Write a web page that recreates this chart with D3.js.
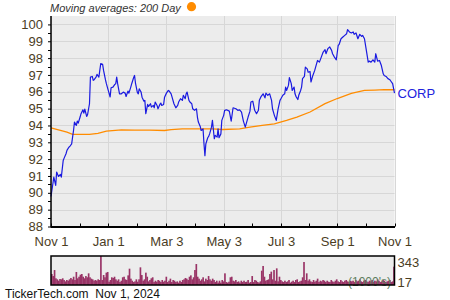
<!DOCTYPE html>
<html><head><meta charset="utf-8">
<script src="https://cdn.jsdelivr.net/npm/d3@7"></script>
<style>
html,body{margin:0;padding:0;background:#fff;}
svg{display:block;font-family:"Liberation Sans",Arial,sans-serif;}
</style></head>
<body><svg id="c" width="450" height="300"></svg>
<script>
const priceDates = ["2023-11-01","2023-11-03","2023-11-04","2023-11-06","2023-11-07","2023-11-09","2023-11-11","2023-11-12","2023-11-14","2023-11-15","2023-11-17","2023-11-18","2023-11-20","2023-11-21","2023-11-23","2023-11-24","2023-11-25","2023-11-26","2023-11-28","2023-11-29","2023-11-30","2023-12-02","2023-12-03","2023-12-05","2023-12-06","2023-12-07","2023-12-09","2023-12-10","2023-12-12","2023-12-13","2023-12-15","2023-12-16","2023-12-17","2023-12-19","2023-12-20","2023-12-22","2023-12-23","2023-12-24","2023-12-26","2023-12-27","2023-12-29","2023-12-30","2024-01-01","2024-01-03","2024-01-04","2024-01-06","2024-01-08","2024-01-09","2024-01-10","2024-01-11","2024-01-13","2024-01-15","2024-01-17","2024-01-19","2024-01-20","2024-01-22","2024-01-23","2024-01-25","2024-01-26","2024-01-28","2024-01-29","2024-01-30","2024-02-01","2024-02-02","2024-02-03","2024-02-05","2024-02-06","2024-02-08","2024-02-09","2024-02-10","2024-02-12","2024-02-13","2024-02-15","2024-02-16","2024-02-18","2024-02-19","2024-02-20","2024-02-22","2024-02-23","2024-02-25","2024-02-26","2024-02-27","2024-02-29","2024-03-01","2024-03-03","2024-03-05","2024-03-06","2024-03-08","2024-03-09","2024-03-11","2024-03-13","2024-03-15","2024-03-16","2024-03-18","2024-03-20","2024-03-21","2024-03-23","2024-03-24","2024-03-25","2024-03-27","2024-03-28","2024-03-30","2024-03-31","2024-04-02","2024-04-04","2024-04-05","2024-04-06","2024-04-08","2024-04-09","2024-04-11","2024-04-12","2024-04-13","2024-04-14","2024-04-16","2024-04-17","2024-04-18","2024-04-20","2024-04-21","2024-04-23","2024-04-24","2024-04-26","2024-04-27","2024-04-28","2024-04-30","2024-05-01","2024-05-03","2024-05-04","2024-05-06","2024-05-09","2024-05-11","2024-05-13","2024-05-16","2024-05-18","2024-05-20","2024-05-22","2024-05-24","2024-05-26","2024-05-29","2024-05-31","2024-06-01","2024-06-03","2024-06-05","2024-06-07","2024-06-09","2024-06-10","2024-06-12","2024-06-14","2024-06-16","2024-06-17","2024-06-19","2024-06-21","2024-06-23","2024-06-24","2024-06-26","2024-06-28","2024-06-30","2024-07-02","2024-07-03","2024-07-05","2024-07-07","2024-07-08","2024-07-09","2024-07-11","2024-07-12","2024-07-14","2024-07-15","2024-07-17","2024-07-18","2024-07-19","2024-07-21","2024-07-22","2024-07-24","2024-07-25","2024-07-26","2024-07-28","2024-07-29","2024-07-31","2024-08-01","2024-08-03","2024-08-04","2024-08-06","2024-08-08","2024-08-10","2024-08-11","2024-08-13","2024-08-15","2024-08-17","2024-08-19","2024-08-20","2024-08-22","2024-08-24","2024-08-26","2024-08-27","2024-08-29","2024-08-31","2024-09-02","2024-09-03","2024-09-05","2024-09-07","2024-09-09","2024-09-11","2024-09-12","2024-09-14","2024-09-16","2024-09-18","2024-09-19","2024-09-21","2024-09-23","2024-09-25","2024-09-27","2024-09-28","2024-09-30","2024-10-02","2024-10-04","2024-10-05","2024-10-07","2024-10-09","2024-10-11","2024-10-12","2024-10-14","2024-10-16","2024-10-18","2024-10-20","2024-10-21","2024-10-23","2024-10-25","2024-10-27","2024-10-28","2024-10-30","2024-11-01"];
const priceValues = [89.78,90.54,90.93,90.44,91.23,90.97,91.09,90.93,91.92,92.06,92.32,92.52,92.71,92.75,92.91,93.31,93.70,94.20,94.00,94.26,94.14,94.50,94.70,94.93,94.73,94.97,94.54,94.65,95.29,96.87,96.91,96.68,96.72,96.87,97.03,96.87,97.27,97.67,97.63,97.27,96.72,96.48,96.08,95.69,96.24,96.28,96.44,96.48,96.87,96.48,95.88,95.88,95.98,95.92,95.72,96.04,95.92,96.28,96.48,96.83,96.97,96.52,95.96,95.88,96.18,95.98,95.68,95.44,95.49,94.70,95.25,95.13,95.29,95.09,95.19,95.05,95.39,95.19,94.99,95.25,95.33,95.19,95.25,95.68,95.92,96.08,96.04,95.88,95.68,95.29,95.05,95.19,95.39,95.59,95.49,95.79,95.59,95.88,95.98,95.49,95.39,95.29,94.99,94.90,94.99,94.50,94.20,93.94,93.70,93.80,92.91,92.21,92.91,93.27,93.35,93.50,93.90,94.30,93.21,93.41,93.31,93.80,93.27,93.50,94.30,94.60,94.90,94.93,94.85,94.26,95.05,94.99,94.90,94.93,94.79,94.26,93.90,94.50,94.85,95.39,95.44,94.90,94.70,94.90,95.49,95.73,95.88,95.64,95.92,95.79,95.88,95.49,94.99,94.60,94.30,94.99,95.49,95.59,95.79,95.88,96.28,96.08,96.38,96.84,96.48,96.08,96.28,95.88,95.73,95.54,95.79,96.08,96.28,96.78,96.91,97.46,97.36,97.16,97.20,96.58,96.97,97.27,97.67,97.86,97.76,98.06,98.36,98.50,98.26,98.56,98.66,98.46,98.26,98.06,97.90,98.75,98.81,99.15,99.25,99.35,99.45,99.69,99.55,99.49,99.55,99.41,99.49,99.15,99.41,99.29,99.35,99.15,98.46,97.76,97.82,97.76,97.90,97.76,98.26,97.82,97.86,97.56,97.07,96.97,96.91,96.78,96.72,96.64,96.48,95.92];

const maDates = ["2023-11-01","2023-11-08","2023-11-18","2023-11-24","2023-12-12","2023-12-21","2023-12-30","2024-01-15","2024-01-29","2024-02-14","2024-03-01","2024-03-08","2024-03-20","2024-04-21","2024-05-02","2024-05-20","2024-05-31","2024-06-13","2024-06-26","2024-07-09","2024-07-20","2024-08-03","2024-08-19","2024-09-01","2024-09-16","2024-09-30","2024-10-11","2024-10-21","2024-11-01"];
const maValues = [93.86,93.75,93.60,93.47,93.47,93.53,93.66,93.74,93.72,93.72,93.70,93.75,93.80,93.80,93.76,93.80,93.90,94.00,94.10,94.30,94.50,94.80,95.30,95.60,95.90,96.08,96.10,96.13,96.12];

const volumes = [130,106,177,79,67,51,71,67,79,59,43,59,51,67,83,67,98,59,154,79,98,122,130,98,79,106,91,138,91,75,67,51,59,51,67,59,343,59,118,91,146,154,39,59,91,83,98,67,51,67,35,51,91,98,67,59,114,193,75,51,35,43,67,39,67,209,118,51,67,146,98,43,59,79,91,35,51,39,59,51,35,59,39,51,98,35,51,75,35,59,51,35,43,28,51,35,59,67,83,75,59,98,114,67,91,177,248,98,75,51,67,91,43,75,59,106,67,51,75,59,35,51,28,
51,28,59,43,138,35,28,39,91,98,51,43,59,35,43,28,51,35,51,35,39,59,28,35,106,35,59,51,35,28,43,169,225,98,51,59,67,130,158,67,177,51,197,43,98,59,43,35,51,35,43,59,28,39,51,35,59,67,35,43,51,91,272,59,138,51,67,43,35,59,39,51,75,35,51,43,59,51,35,51,39,35,59,43,35,51,67,43,35,59,43,35,51,59,43,35,51,43,51,35,59,43,51,67,43,35,51,59,43,35,51,43,59,35,51,43,67,51,35,43,59,51,35,43,51,59,35,43,217];

const yTickValues = [88,89,90,91,92,93,94,95,96,97,98,99,100];
const xTickDates = ["2023-11-01","2024-01-01","2024-03-03","2024-05-03","2024-07-03","2024-09-01","2024-11-01"];
const xTickLabels = ["Nov 1","Jan 1","Mar 3","May 3","Jul 3","Sep 1","Nov 1"];
const volLabels = [343, 17];
const symbol = "CORP";
const titleText = "Moving averages: 200 Day";
const footerText = "TickerTech.com  Nov 1, 2024";

const parse = d3.utcParse("%Y-%m-%d");
const svg = d3.select("#c");
const L = 51, R = 394.5, T = 16, B = 226.5;
const textCol = "#4b3d1f";

const x = d3.scaleUtc().domain([parse(xTickDates[0]), parse(xTickDates[xTickDates.length-1])]).range([L, R]);
const y = d3.scaleLinear().domain([88, 100.5]).range([B, T]);

// background
svg.append("rect").attr("x", L).attr("y", T).attr("width", R - L).attr("height", B - T).attr("fill", "#ececec");

// grid
const g = svg.append("g");
g.selectAll(".hg").data(yTickValues).join("line")
  .attr("x1", L).attr("x2", R).attr("y1", d => Math.round(y(d)) + 0.5).attr("y2", d => Math.round(y(d)) + 0.5)
  .attr("stroke", "#d7d7d7").attr("stroke-width", 1);
const xt = xTickDates.map(parse);
g.selectAll(".vg").data(xt).join("line")
  .attr("x1", d => Math.round(x(d)) + 0.5).attr("x2", d => Math.round(x(d)) + 0.5).attr("y1", T).attr("y2", B)
  .attr("stroke", "#d7d7d7").attr("stroke-width", 1);

// minor x ticks (inward)
const minorX = d3.pairs(xt).map(([a, b]) => new Date((+a + +b) / 2));
svg.selectAll(".mx").data(minorX.concat(xt)).join("line")
  .attr("x1", d => Math.round(x(d)) + 0.5).attr("x2", d => Math.round(x(d)) + 0.5)
  .attr("y1", B - 3).attr("y2", B).attr("stroke", "#000").attr("stroke-width", 1);

// lines
const priceData = priceDates.map((d, i) => ({d: parse(d), v: priceValues[i]}));
const maData = maDates.map((d, i) => ({d: parse(d), v: maValues[i]}));
const line = d3.line().x(p => x(p.d)).y(p => y(p.v));
svg.append("path").datum(maData).attr("d", line).attr("fill", "none").attr("stroke", "#ff8c00").attr("stroke-width", 1.3);
svg.append("path").datum(priceData).attr("d", line).attr("fill", "none").attr("stroke", "#1a1ae0").attr("stroke-width", 1.2).attr("stroke-linejoin", "round");

// y axis
const yAxis = d3.axisLeft(y).tickValues(yTickValues).tickSize(3).tickSizeOuter(0).tickPadding(5).tickFormat(d3.format("d"));
const ya = svg.append("g").attr("transform", `translate(${L},0)`).call(yAxis);
ya.select(".domain").remove();
ya.selectAll("text").attr("font-size", 13).attr("fill", textCol).attr("font-family", "Liberation Sans, Arial, sans-serif");
ya.selectAll("line").attr("stroke", "#000");
const minorY = d3.pairs(yTickValues).map(([a, b]) => (a + b) / 2);
svg.selectAll(".my").data(minorY).join("line")
  .attr("x1", L - 3).attr("x2", L).attr("y1", d => Math.round(y(d)) + 0.5).attr("y2", d => Math.round(y(d)) + 0.5)
  .attr("stroke", "#000");
svg.append("line").attr("x1", L).attr("x2", L).attr("y1", T).attr("y2", B + 1).attr("stroke", "#000").attr("stroke-width", 1.5);

// x axis
const xAxis = d3.axisBottom(x).tickValues(xt).tickSize(0).tickPadding(10).tickFormat((d, i) => xTickLabels[i]);
const xa = svg.append("g").attr("transform", `translate(0,${B})`).call(xAxis);
xa.select(".domain").remove();
xa.selectAll("text").attr("font-size", 13).attr("fill", textCol).attr("font-family", "Liberation Sans, Arial, sans-serif");
svg.append("line").attr("x1", L).attr("x2", R + 0.5).attr("y1", B + 0.5).attr("y2", B + 0.5).attr("stroke", "#000").attr("stroke-width", 2);

// symbol label
const last = priceData[priceData.length - 1];
svg.append("text").attr("x", R + 3).attr("y", y(last.v) + 0).attr("dy", "0.35em")
  .attr("font-size", 13).attr("fill", "#2222dd").text(symbol);

// title
svg.append("text").attr("x", 50).attr("y", 12).attr("font-size", 11).attr("font-style", "italic").attr("fill", "#333").text(titleText);
svg.append("circle").attr("cx", 191.5).attr("cy", 6.7).attr("r", 4.6).attr("fill", "#ff8c00");

// volume panel
const VT = 256, VB = 285;
svg.append("rect").attr("x", L).attr("y", VT).attr("width", R - L).attr("height", VB - VT).attr("fill", "#ececec");
const xv = d3.scaleBand().domain(d3.range(volumes.length)).range([L, R]).padding(0);
const yv = d3.scaleLinear().domain([0, d3.max(volumes)]).range([VB, VT]);
svg.append("g").selectAll("rect").data(volumes).join("rect")
  .attr("x", (d, i) => xv(i)).attr("width", xv.bandwidth() + 0.3)
  .attr("y", d => yv(d)).attr("height", d => VB - yv(d)).attr("fill", "#993366");
svg.append("text").attr("x", 348).attr("y", 286).attr("font-size", 12).attr("fill", "#5e7e5e").text("(1000's)");
svg.append("rect").attr("x", L).attr("y", VT).attr("width", R - L).attr("height", VB - VT).attr("fill", "none").attr("stroke", "#000").attr("stroke-width", 1.5);
svg.append("text").attr("x", R + 3).attr("y", yv(volLabels[0]) + 11).attr("font-size", 13).attr("fill", textCol).text(volLabels[0]);
svg.append("text").attr("x", R + 3).attr("y", yv(volLabels[1]) + 3).attr("font-size", 13).attr("fill", textCol).text(volLabels[1]);

// footer
svg.append("text").attr("x", 5).attr("y", 298).attr("font-size", 12).attr("fill", "#111")
  .style("white-space", "pre").attr("xml:space", "preserve").text(footerText);
</script></body></html>
